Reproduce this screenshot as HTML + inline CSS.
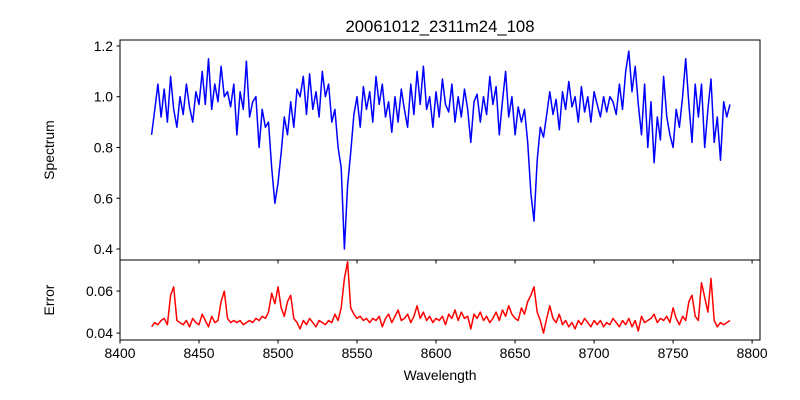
<!DOCTYPE html>
<html><head><meta charset="utf-8"><style>
body{margin:0;background:#fff}
svg{display:block;font-family:"Liberation Sans","DejaVu Sans",sans-serif}
</style></head><body>
<svg id="c" width="800" height="400" xmlns="http://www.w3.org/2000/svg">
<rect width="800" height="400" fill="#fff"/>
<text x="440" y="32" font-size="16.7" text-anchor="middle">20061012_2311m24_108</text>
<text transform="translate(54,150) rotate(-90)" font-size="13.9" text-anchor="middle">Spectrum</text>
<text transform="translate(54,300) rotate(-90)" font-size="13.9" text-anchor="middle">Error</text>
<text x="440" y="380" font-size="13.9" text-anchor="middle">Wavelength</text>
<g id="g"></g>
</svg>
<script>
const wlStart = 8420, wlStep = 2;
const spectrum = [0.85,0.95,1.05,0.92,1.03,0.90,1.08,0.95,0.88,1.00,0.93,1.05,0.96,0.90,1.02,0.97,
1.10,0.97,1.15,0.95,1.05,0.98,1.12,1.00,1.02,0.96,1.05,0.85,1.02,0.95,1.14,0.92,0.98,1.00,0.80,0.95,0.88,0.90,0.72,0.58,0.66,
0.78,0.92,0.85,0.98,0.88,1.03,1.00,1.08,0.93,1.09,0.95,1.02,0.92,1.10,1.00,1.05,0.90,0.95,0.80,0.72,0.40,0.65,0.78,0.93,1.00,0.88,1.04,0.95,1.02,0.90,1.08,0.97,1.05,0.92,0.98,0.86,1.00,0.90,1.03,0.95,0.88,1.05,0.93,1.10,0.97,1.12,0.95,1.00,0.88,1.02,0.92,1.07,0.97,0.94,1.05,0.90,1.00,0.92,1.03,0.95,0.82,0.98,1.01,0.90,1.00,0.93,1.08,0.97,1.04,0.85,0.98,1.10,0.92,1.00,0.85,0.96,0.90,0.95,0.82,0.62,0.51,0.75,0.88,0.84,0.93,1.02,0.93,0.99,0.87,1.02,0.95,1.06,0.96,1.00,0.90,1.04,0.94,1.00,0.90,1.02,0.97,0.92,1.00,0.94,1.00,0.98,0.93,1.05,0.95,1.10,1.18,1.02,1.12,0.97,0.85,1.05,0.80,0.98,0.74,0.92,0.83,1.08,0.92,0.85,0.80,0.95,0.88,1.00,1.15,0.97,0.82,1.05,0.92,1.05,0.80,0.95,1.07,0.82,0.92,0.75,0.98,0.92,0.97];
const errors = [0.043,0.045,0.044,0.046,0.047,0.044,0.058,0.062,0.046,0.045,0.044,
0.046,0.043,0.047,0.045,0.044,0.049,0.046,0.043,0.048,0.045,
0.046,0.055,0.060,0.047,0.045,0.046,0.045,0.046,0.044,0.045,
0.046,0.045,0.047,0.046,0.048,0.047,0.050,0.059,0.054,0.062,
0.052,0.048,0.055,0.058,0.047,0.045,0.042,0.046,0.044,0.047,
0.045,0.043,0.046,0.045,0.044,0.046,0.045,0.049,0.046,0.052,
0.066,0.074,0.052,0.049,0.047,0.048,0.046,0.047,0.045,0.047,
0.046,0.048,0.043,0.047,0.049,0.045,0.048,0.051,0.046,0.047,
0.049,0.045,0.048,0.053,0.047,0.050,0.046,0.048,0.045,0.047,
0.046,0.048,0.044,0.049,0.047,0.051,0.046,0.050,0.047,0.048,
0.042,0.049,0.047,0.050,0.046,0.048,0.045,0.047,0.050,0.046,
0.051,0.048,0.053,0.049,0.047,0.046,0.052,0.049,0.055,0.058,
0.062,0.050,0.046,0.040,0.047,0.053,0.047,0.045,0.049,0.044,
0.046,0.043,0.045,0.042,0.046,0.044,0.047,0.045,0.043,0.046,
0.044,0.046,0.043,0.045,0.044,0.047,0.045,0.043,0.046,0.044,
0.047,0.043,0.046,0.041,0.048,0.045,0.046,0.047,0.049,0.045,
0.047,0.046,0.048,0.045,0.052,0.047,0.044,0.048,0.046,0.055,
0.058,0.048,0.046,0.064,0.057,0.050,0.066,0.046,0.043,0.045,
0.044,0.045,0.046];
const xTicks = [8400,8450,8500,8550,8600,8650,8700,8750,8800];
const specTicks = [0.4,0.6,0.8,1.0,1.2];
const specTickLabels = ["0.4","0.6","0.8","1.0","1.2"];
const errTicks = [0.04,0.06];
const errTickLabels = ["0.04","0.06"];

const NS = "http://www.w3.org/2000/svg";
const g = document.getElementById('g');
const L = 120, R = 760;
const xMin = 8400, xMax = 8805;
const X = w => L + (w - xMin) / (xMax - xMin) * (R - L);
const T1 = 40, B1 = 260, yMin1 = 0.3567, yMax1 = 1.2236;
const Y1 = v => B1 - (v - yMin1) / (yMax1 - yMin1) * (B1 - T1);
const T2 = 260, B2 = 340, yMin2 = 0.0367, yMax2 = 0.0748;
const Y2 = v => B2 - (v - yMin2) / (yMax2 - yMin2) * (B2 - T2);

function el(tag, attrs){const e=document.createElementNS(NS,tag);for(const k in attrs)e.setAttribute(k,attrs[k]);g.appendChild(e);return e;}

const p1 = el('path',{d:spectrum.map((v,i)=>(i?'L':'M')+X(wlStart+i*wlStep).toFixed(1)+','+Y1(v).toFixed(1)).join(''),fill:'none',stroke:'#0000ff','stroke-width':1.5,'stroke-linejoin':'round'});


const p2 = el('path',{d:errors.map((v,i)=>(i?'L':'M')+X(wlStart+i*wlStep).toFixed(1)+','+Y2(v).toFixed(1)).join(''),fill:'none',stroke:'#ff0000','stroke-width':1.5,'stroke-linejoin':'round'});



const f1 = el('rect',{x:L,y:T1,width:R-L,height:B1-T1,fill:'none',stroke:'#000','stroke-width':1});


const f2 = el('rect',{x:L,y:T2,width:R-L,height:B2-T2,fill:'none',stroke:'#000','stroke-width':1});



xTicks.forEach(w=>{
  const x = X(w);
  const t1 = el('line',{x1:x,x2:x,y1:B1,y2:B1+3.5,stroke:'#000'});
  
  
  const t2 = el('line',{x1:x,x2:x,y1:B2,y2:B2+3.5,stroke:'#000'});
  
  
  const tx = el('text',{x:x,y:B2+18,'font-size':13.9,'text-anchor':'middle'});
  tx.textContent = String(w);
  
  
});
specTicks.forEach((v,i)=>{
  const y = Y1(v);
  const t = el('line',{x1:L-3.5,x2:L,y1:y,y2:y,stroke:'#000'});
  
  
  const tx = el('text',{x:L-7,y:y+5,'font-size':13.9,'text-anchor':'end'});
  tx.textContent = specTickLabels[i];
  
  
});
errTicks.forEach((v,i)=>{
  const y = Y2(v);
  const t = el('line',{x1:L-3.5,x2:L,y1:y,y2:y,stroke:'#000'});
  
  
  const tx = el('text',{x:L-7,y:y+5,'font-size':13.9,'text-anchor':'end'});
  tx.textContent = errTickLabels[i];
  
  
});
</script>
</body></html>
